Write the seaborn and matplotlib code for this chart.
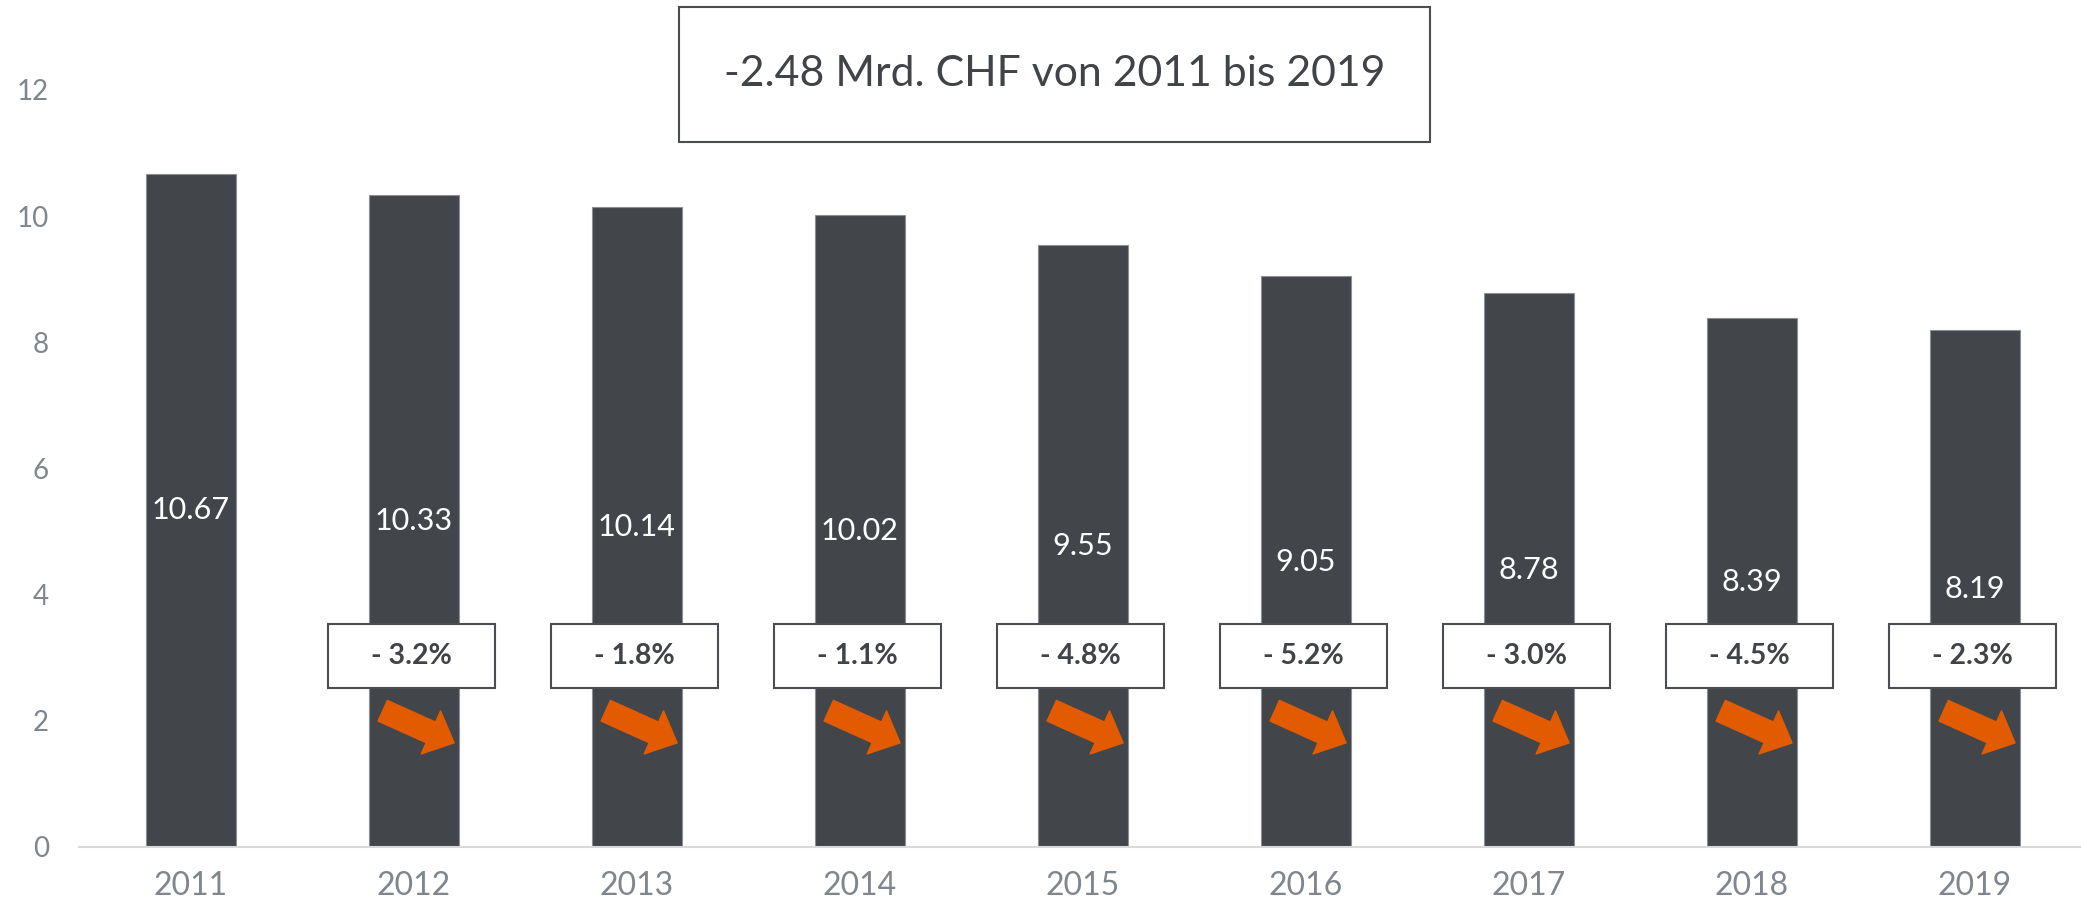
import matplotlib
matplotlib.use("Agg")
import matplotlib.pyplot as plt
import seaborn as sns
from matplotlib.patches import Rectangle

years = ["2011", "2012", "2013", "2014", "2015", "2016", "2017", "2018", "2019"]
revenue = [10.67, 10.33, 10.14, 10.02, 9.55, 9.05, 8.78, 8.39, 8.19]
pct_change = [-3.2, -1.8, -1.1, -4.8, -5.2, -3.0, -4.5, -2.3]  # vs previous year, 2012..2019
headline = "-2.48 Mrd. CHF von 2011 bis 2019"
y_ticks = [0, 2, 4, 6, 8, 10, 12]

BAR = "#42454A"
ORANGE = "#E35B00"
TICK = "#7F868E"
BOX_EDGE = "#4A4D52"

sns.set_theme(style="white")
plt.rcParams["font.family"] = ["Lato", "DejaVu Sans"]

fig = plt.figure(figsize=(20.81, 9.05), dpi=100)
ax = fig.add_axes([0.0382, 0.0641, 0.9644, 0.8365])

sns.barplot(x=years, y=revenue, color=BAR, saturation=1, width=0.4,
            edgecolor="#8C8F93", linewidth=0.8, ax=ax)

ax.set_xlim(-0.5, 8.5)
ax.set_ylim(0, 12)
ax.set_yticks(y_ticks)
ax.set_xlabel("")
ax.set_ylabel("")
ax.tick_params(axis="y", length=0, pad=22, labelsize=20, labelcolor=TICK)
ax.tick_params(axis="x", length=0, pad=17, labelsize=23, labelcolor=TICK)
for side in ("top", "right", "left"):
    ax.spines[side].set_visible(False)
ax.spines["bottom"].set_color("#D9D9D9")
ax.spines["bottom"].set_linewidth(1.5)

# value labels in the middle of each bar
for i, v in enumerate(revenue):
    ax.text(i, v / 2, f"{v:.2f}", color="white", fontsize=22,
            ha="center", va="center", zorder=4)

# year-over-year change boxes and arrows
box_y = 3.03
for i, p in enumerate(pct_change, start=1):
    ax.add_patch(Rectangle((i - 0.385, box_y - 0.51), 0.75, 1.02,
                           facecolor="white", edgecolor=BOX_EDGE, linewidth=1.5, zorder=3))
    ax.text(i - 0.01, box_y, f"- {abs(p):.1f}%", color="#404347", fontsize=20.5,
            fontweight="bold", ha="center", va="center", zorder=4)
    ax.annotate("", xy=(i + 0.18, box_y - 1.38), xytext=(i - 0.14, box_y - 0.87),
                arrowprops=dict(arrowstyle="simple,head_length=0.54,head_width=1.0,tail_width=0.48",
                                mutation_scale=34, color=ORANGE, shrinkA=0, shrinkB=0),
                zorder=4)

# headline box
fig.patches.append(Rectangle((0.3263, 0.8433), 0.3609, 0.1492, transform=fig.transFigure,
                             facecolor="white", edgecolor=BOX_EDGE, linewidth=1.5, zorder=5))
fig.text(0.5067, 0.9177, headline, fontsize=30.8, color="#404347",
         ha="center", va="center", zorder=6)

fig.savefig("out.png", dpi=100)
